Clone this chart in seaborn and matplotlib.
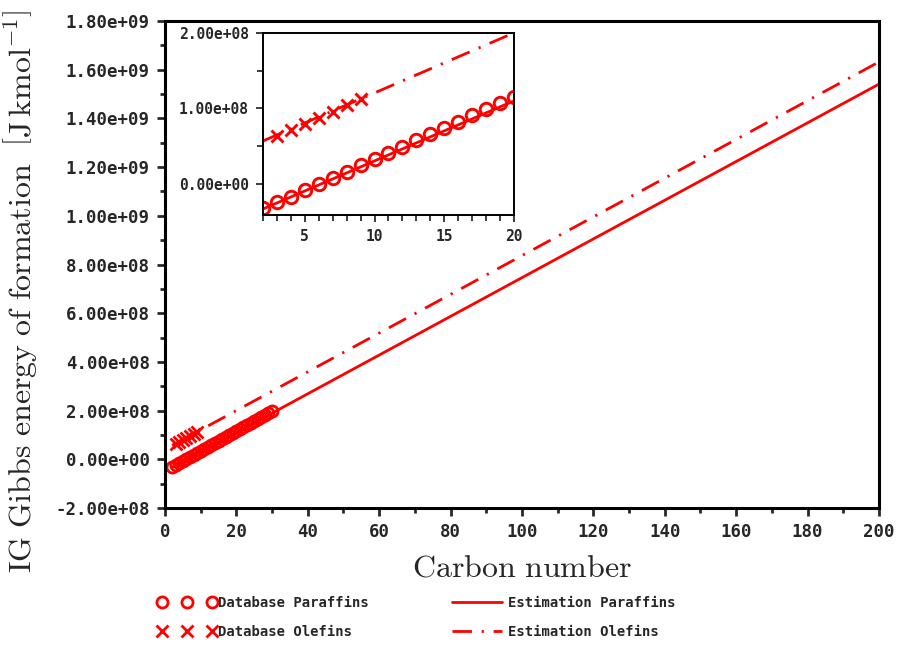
import matplotlib
matplotlib.use('Agg')
import matplotlib.pyplot as plt
import seaborn as sns
from matplotlib.ticker import MultipleLocator, FormatStrFormatter

# ------------------------------------------------------------
# Data (J/kmol)
# ------------------------------------------------------------
carbon_paraffins = list(range(2, 31))
gibbs_paraffins = [-32e6, -24e6, -17e6, -8e6, 0e6, 8e6, 16e6, 25e6, 33e6, 41e6,
                   49e6, 58e6, 66e6, 74e6, 82e6, 91e6, 99e6, 107e6, 115e6, 124e6,
                   132e6, 140e6, 148e6, 156e6, 165e6, 173e6, 181e6, 189e6, 197e6]

carbon_olefins = [3, 4, 5, 6, 7, 8, 9]
gibbs_olefins = [63e6, 71e6, 79e6, 88e6, 96e6, 104e6, 113e6]

# estimation lines (straight, end points)
carbon_est = [2, 200]
gibbs_est_paraffins = [-33e6, 1.541e9]
gibbs_est_olefins = [57e6, 1.632e9]

RED = '#ff0000'
MONO = 'DejaVu Sans Mono'

sns.set_style('ticks')
plt.rcParams['font.family'] = ['DejaVu Sans']
plt.rcParams['mathtext.fontset'] = 'cm'


def draw(ax, ms, mew, lw):
    sns.lineplot(x=carbon_paraffins, y=gibbs_paraffins, ax=ax, marker='o',
                 linestyle='none', markersize=ms, markerfacecolor='none',
                 markeredgecolor=RED, markeredgewidth=mew, color=RED,
                 label='Database Paraffins')
    sns.lineplot(x=carbon_olefins, y=gibbs_olefins, ax=ax, marker='x',
                 linestyle='none', markersize=ms, markeredgecolor=RED,
                 markeredgewidth=mew, color=RED, label='Database Olefins')
    sns.lineplot(x=carbon_est, y=gibbs_est_paraffins, ax=ax, color=RED,
                 linewidth=lw, label='Estimation Paraffins')
    sns.lineplot(x=carbon_est, y=gibbs_est_olefins, ax=ax, color=RED,
                 linewidth=lw, linestyle=(0, (7, 3.5, 0.8, 3.5)),
                 label='Estimation Olefins')
    if ax.get_legend() is not None:
        ax.get_legend().remove()


def style_axes(ax, spine_w, tick_len, font_size):
    for sp in ax.spines.values():
        sp.set_visible(True)
        sp.set_linewidth(spine_w)
        sp.set_color('black')
    ax.tick_params(which='major', direction='out', length=tick_len,
                   width=spine_w * 0.9, pad=5, top=False, right=False)
    ax.tick_params(which='minor', direction='out', length=tick_len * 0.55,
                   width=spine_w * 0.9, top=False, right=False)
    for lab in ax.get_xticklabels() + ax.get_yticklabels():
        lab.set_fontfamily(MONO)
        lab.set_fontweight('bold')
        lab.set_fontsize(font_size)


fig = plt.figure(figsize=(8.97, 6.45), dpi=100)

# ------------------------------------------------------------
# Main plot
# ------------------------------------------------------------
ax = fig.add_axes([0.1839, 0.2124, 0.796, 0.755])
draw(ax, ms=8, mew=2.0, lw=2.0)
ax.set_xlim(0, 200)
ax.set_ylim(-2e8, 1.8e9)
ax.xaxis.set_major_locator(MultipleLocator(20))
ax.xaxis.set_minor_locator(MultipleLocator(10))
ax.yaxis.set_major_locator(MultipleLocator(2e8))
ax.yaxis.set_minor_locator(MultipleLocator(1e8))
ax.yaxis.set_major_formatter(FormatStrFormatter('%.2e'))
ax.xaxis.set_major_formatter(FormatStrFormatter('%d'))
style_axes(ax, spine_w=2.2, tick_len=6, font_size=12.5)

ax.set_xlabel(r'$\mathrm{Carbon\ number}$', fontsize=23, labelpad=8)
ax.set_ylabel(r'$\mathrm{IG\ Gibbs\ energy\ of\ formation}\ \ '
              r'\left[\mathrm{J\,kmol^{-1}}\right]$', fontsize=23)
ax.yaxis.set_label_coords(-0.176, 0.446)

# ------------------------------------------------------------
# Inset (zoom on the database region)
# ------------------------------------------------------------
axins = fig.add_axes([0.2932, 0.6667, 0.2798, 0.2822])
draw(axins, ms=9, mew=2.1, lw=2.0)
axins.set_xlim(2, 20)
axins.set_ylim(-4.1e7, 2e8)
axins.xaxis.set_major_locator(MultipleLocator(5))
axins.xaxis.set_minor_locator(MultipleLocator(1))
axins.yaxis.set_major_locator(MultipleLocator(1e8))
axins.yaxis.set_minor_locator(MultipleLocator(5e7))
axins.yaxis.set_major_formatter(FormatStrFormatter('%.2e'))
axins.xaxis.set_major_formatter(FormatStrFormatter('%d'))
style_axes(axins, spine_w=1.4, tick_len=5, font_size=10.5)
axins.tick_params(which='minor', length=4)

# ------------------------------------------------------------
# Legend below the plot
# ------------------------------------------------------------
handles, labels = ax.get_legend_handles_labels()
fig.legend(handles, labels, loc='center left',
           bbox_to_anchor=(0.162, 0.043), bbox_transform=fig.transFigure,
           ncol=2, frameon=False, numpoints=3, handlelength=4.2,
           handletextpad=0.1, columnspacing=5.75, labelspacing=1.05,
           prop={'family': MONO, 'weight': 'bold', 'size': 10})

fig.savefig('out.png', dpi=100)
